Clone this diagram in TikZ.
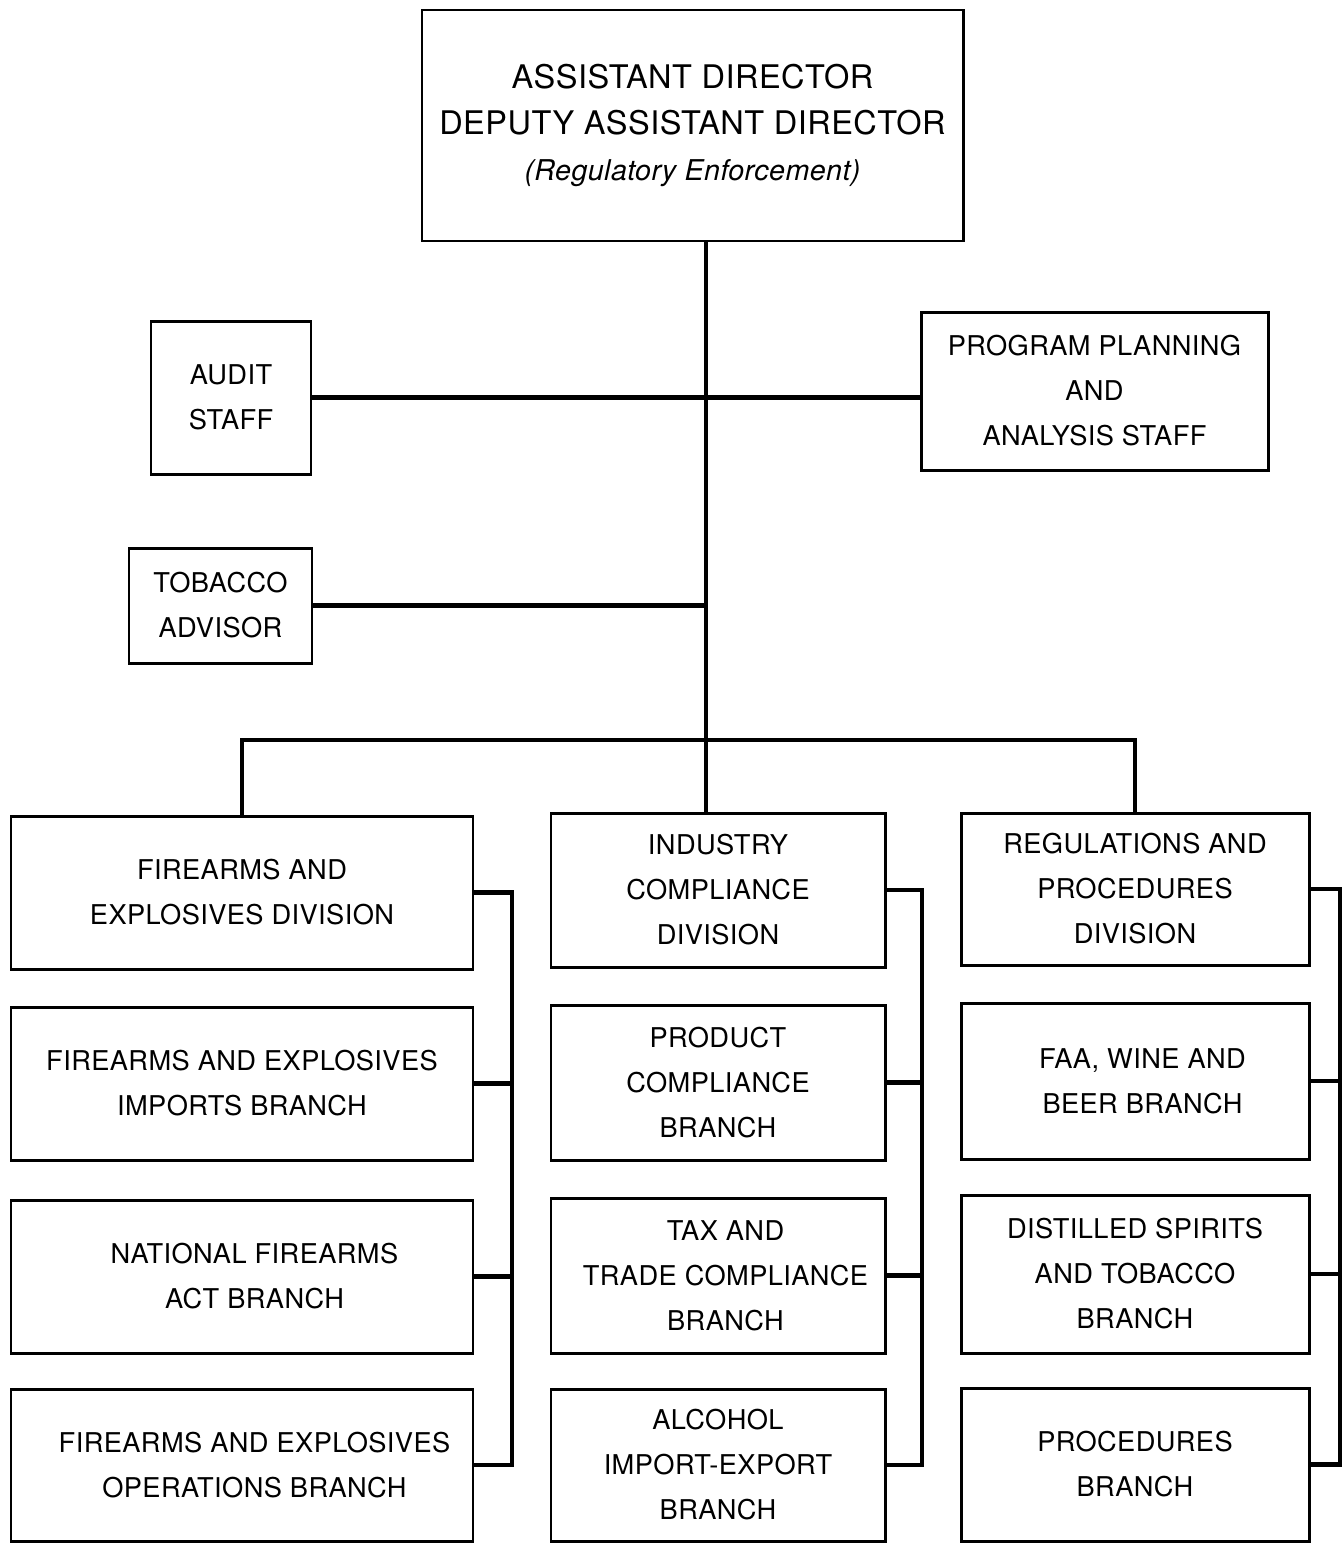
\documentclass[tikz,border=0pt]{standalone}
\usepackage{fontspec}
\setmainfont[LetterSpace=1.5]{TeX Gyre Heros}
\usepackage{tikz}

\begin{document}
\begin{tikzpicture}[
        unit/.style={draw, line width=1.7pt, align=center, inner sep=0pt,
            font=\fontsize{15.5}{25.6}\selectfont},
        link/.style={line width=2.4pt}
    ]
        \useasboundingbox (0, 0) rectangle (26.86, -30.88);

        \node[unit, minimum width=10.82cm, minimum height=4.62cm,
            font=\fontsize{18.5}{26}\selectfont] (top) at (13.85, -2.51)
            {ASSISTANT DIRECTOR\\ DEPUTY ASSISTANT DIRECTOR\\
             {\fontsize{16.3}{26}\selectfont\itshape (Regulatory Enforcement)\hspace{0.5cm}}};

        \node[unit, minimum width=3.2cm, minimum height=3.06cm] (audit) at (4.62, -7.95) {AUDIT\\ STAFF};
        \node[unit, minimum width=6.94cm, minimum height=3.16cm] (prog) at (21.89, -7.82) {PROGRAM PLANNING\\ AND\\ ANALYSIS STAFF};
        \node[unit, minimum width=3.66cm, minimum height=2.3cm] (tob) at (4.41, -12.11) {TOBACCO\\ ADVISOR};

        \node[unit, minimum width=9.24cm, minimum height=3.06cm] (fed) at (4.84, -17.85) {FIREARMS AND\\ EXPLOSIVES DIVISION};
        \node[unit, minimum width=9.24cm, minimum height=3.06cm] (imp) at (4.84, -21.67) {FIREARMS AND EXPLOSIVES\\ IMPORTS BRANCH};
        \node[unit, minimum width=9.24cm, minimum height=3.06cm] (nfa) at (4.84, -25.53) {\hspace{0.5cm}NATIONAL FIREARMS\\ \hspace{0.5cm}ACT BRANCH};
        \node[unit, minimum width=9.24cm, minimum height=3.04cm] (ops) at (4.84, -29.3) {\hspace{0.5cm}FIREARMS AND EXPLOSIVES\\ \hspace{0.5cm}OPERATIONS BRANCH};

        \node[unit, minimum width=6.68cm, minimum height=3.08cm] (icd) at (14.36, -17.8) {INDUSTRY\\ COMPLIANCE\\ DIVISION};
        \node[unit, minimum width=6.68cm, minimum height=3.1cm] (pcb) at (14.36, -21.65) {PRODUCT\\ COMPLIANCE\\ BRANCH};
        \node[unit, minimum width=6.68cm, minimum height=3.1cm] (ttc) at (14.36, -25.51) {\hspace{0.3cm}TAX AND\\ \hspace{0.3cm}TRADE COMPLIANCE\\ \hspace{0.3cm}BRANCH};
        \node[unit, minimum width=6.68cm, minimum height=3.04cm] (aie) at (14.36, -29.3) {ALCOHOL\\ IMPORT-EXPORT\\ BRANCH};

        \node[unit, minimum width=6.96cm, minimum height=3.04cm] (rpd) at (22.7, -17.78) {REGULATIONS AND\\ PROCEDURES\\ DIVISION};
        \node[unit, minimum width=6.96cm, minimum height=3.12cm] (fwb) at (22.7, -21.62) {\hspace{0.3cm}FAA, WINE AND\\ \hspace{0.3cm}BEER BRANCH};
        \node[unit, minimum width=6.96cm, minimum height=3.16cm] (dst) at (22.7, -25.48) {DISTILLED SPIRITS\\ AND TOBACCO\\ BRANCH};
        \node[unit, minimum width=6.96cm, minimum height=3.06cm] (proc) at (22.7, -29.29) {PROCEDURES\\ BRANCH};

        \coordinate (trunk) at (14.12, -14.8);
        \coordinate (lrail) at (10.24, 0);
        \coordinate (mrail) at (18.44, 0);
        \coordinate (rrail) at (26.8, 0);

        \draw[link] (top.south -| trunk) -- (trunk);
        \draw[link] (audit.east) -- (audit.east -| prog.west);
        \draw[link] (tob.east) -- (tob.east -| trunk);
        \draw[link] (fed.north) |- (trunk) -| (rpd.north);
        \draw[link] (trunk) -- (trunk |- icd.north);

        \draw[link] (fed.east) -| (lrail |- ops.east) -- (ops.east);
        \draw[link] (icd.east) -| (mrail |- aie.east) -- (aie.east);
        \draw[link] (rpd.east) -| (rrail |- proc.east) -- (proc.east);
        \foreach \b in {imp, nfa}
            \draw[link] (\b.east) -- (\b.east -| lrail);
        \foreach \b in {pcb, ttc}
            \draw[link] (\b.east) -- (\b.east -| mrail);
        \foreach \b in {fwb, dst}
            \draw[link] (\b.east) -- (\b.east -| rrail);
    \end{tikzpicture}
\end{document}
